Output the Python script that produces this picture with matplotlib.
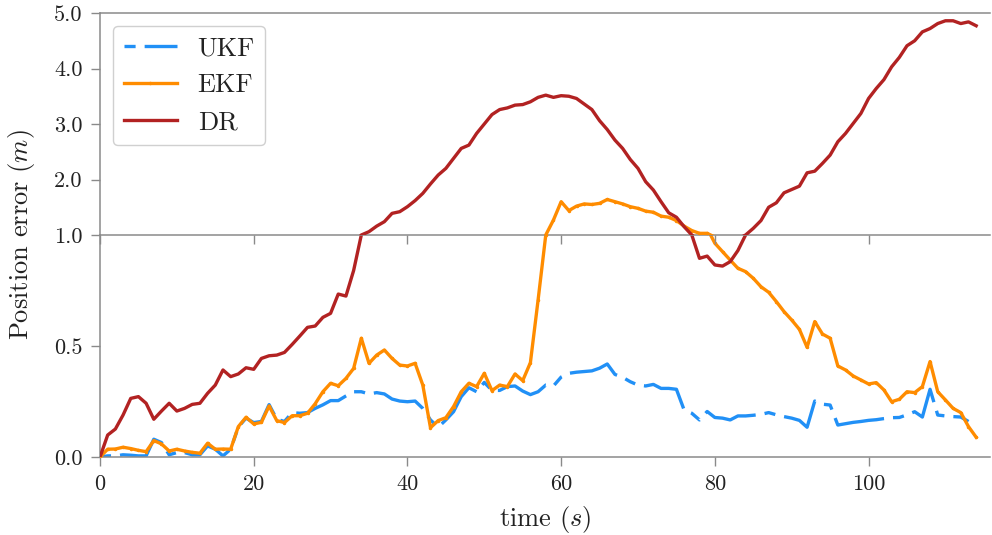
import matplotlib
matplotlib.use("Agg")
import matplotlib.pyplot as plt
import numpy as np

plt.rcParams['font.family'] = 'serif'
plt.rcParams['font.serif'] = ['cmr10', 'DejaVu Serif']
plt.rcParams['mathtext.fontset'] = 'cm'
plt.rcParams['axes.formatter.use_mathtext'] = True
plt.rcParams['axes.unicode_minus'] = False
plt.rcParams['lines.scale_dashes'] = False

time_s = list(range(0, 115))

dr = [0.0, 0.099, 0.126, 0.189, 0.264, 0.272, 0.242, 0.170, 0.207, 0.242,
      0.207, 0.219, 0.237, 0.242, 0.287, 0.324, 0.392, 0.362, 0.374, 0.402,
      0.395, 0.444, 0.456, 0.459, 0.471, 0.507, 0.545, 0.584, 0.590, 0.629,
      0.647, 0.734, 0.725, 0.84, 1.0, 1.06, 1.16, 1.24, 1.39, 1.42,
      1.51, 1.62, 1.75, 1.92, 2.08, 2.2, 2.38, 2.56, 2.62, 2.83,
      3.0, 3.17, 3.26, 3.29, 3.34, 3.35, 3.4, 3.48, 3.52, 3.48,
      3.51, 3.5, 3.46, 3.36, 3.26, 3.06, 2.9, 2.71, 2.56, 2.36,
      2.2, 1.96, 1.81, 1.6, 1.4, 1.32, 1.15, 1.0, 0.895, 0.905,
      0.865, 0.86, 0.88, 0.93, 1.0, 1.12, 1.26, 1.5, 1.58, 1.76,
      1.82, 1.88, 2.12, 2.15, 2.29, 2.44, 2.68, 2.83, 3.01, 3.19,
      3.46, 3.64, 3.8, 4.03, 4.2, 4.41, 4.5, 4.66, 4.72, 4.81,
      4.86, 4.86, 4.81, 4.84, 4.77]

ekf = [0.0, 0.035, 0.036, 0.044, 0.038, 0.030, 0.024, 0.074, 0.059, 0.027,
       0.035, 0.027, 0.021, 0.017, 0.062, 0.035, 0.036, 0.035, 0.137, 0.179,
       0.149, 0.156, 0.230, 0.164, 0.155, 0.186, 0.186, 0.197, 0.24, 0.294,
       0.332, 0.321, 0.354, 0.399, 0.535, 0.422, 0.459, 0.482, 0.444, 0.414,
       0.410, 0.422, 0.324, 0.132, 0.164, 0.177, 0.227, 0.294, 0.332, 0.317,
       0.377, 0.299, 0.324, 0.317, 0.374, 0.344, 0.425, 0.707, 1.0, 1.27,
       1.6, 1.44, 1.52, 1.56, 1.55, 1.57, 1.64, 1.6, 1.56, 1.51,
       1.48, 1.43, 1.41, 1.34, 1.32, 1.26, 1.16, 1.08, 1.03, 1.03,
       0.963, 0.925, 0.887, 0.85, 0.835, 0.805, 0.767, 0.742, 0.70, 0.655,
       0.617, 0.575, 0.494, 0.61, 0.554, 0.535, 0.41, 0.392, 0.365, 0.347,
       0.329, 0.335, 0.302, 0.249, 0.26, 0.294, 0.29, 0.317, 0.43, 0.294,
       0.257, 0.219, 0.2, 0.137, 0.089]

ukf_time = list(range(0, 114))
ukf = [0.0, 0.005, 0.005, 0.01, 0.008, 0.005, 0.005, 0.08, 0.065, 0.01,
       0.02, 0.02, 0.01, 0.01, 0.05, 0.035, 0.005, 0.035, 0.135, 0.175,
       0.155, 0.16, 0.236, 0.17, 0.16, 0.2, 0.197, 0.2, 0.219, 0.235,
       0.254, 0.254, 0.275, 0.294, 0.294, 0.284, 0.29, 0.284, 0.261, 0.252,
       0.249, 0.252, 0.219, 0.167, 0.134, 0.167, 0.204, 0.272, 0.312, 0.294,
       0.336, 0.3, 0.3, 0.317, 0.32, 0.297, 0.281, 0.294, 0.324, 0.32,
       0.36, 0.377, 0.382, 0.385, 0.388, 0.4, 0.419, 0.372, 0.359, 0.339,
       0.324, 0.32, 0.327, 0.309, 0.309, 0.305, 0.212, 0.197, 0.167, 0.205,
       0.178, 0.175, 0.167, 0.185, 0.185, 0.188, 0.192, 0.2, 0.19, 0.182,
       0.175, 0.165, 0.134, 0.252, 0.238, 0.234, 0.144, 0.15, 0.156, 0.16,
       0.165, 0.168, 0.173, 0.177, 0.178, 0.19, 0.204, 0.18, 0.305, 0.189,
       0.185, 0.182, 0.18, 0.16]

top_yticks = [1.0, 2.0, 3.0, 4.0, 5.0]
bottom_yticks = [0.0, 0.5]
xticks = [0, 20, 40, 60, 80, 100]

c_ukf = '#2190f6'
c_ekf = '#ff8c00'
c_dr = '#b22222'
spine_c = '#8a8a8a'
txt_c = '#222222'

W, H = 992, 535
fig = plt.figure(figsize=(W / 100, H / 100), dpi=100)
left = 100 / W
right = 990 / W
ax_bot = fig.add_axes([left, (H - 457) / H, right - left, 222 / H])
ax_top = fig.add_axes([left, (H - 235) / H, right - left, 222 / H])
ax_bot.patch.set_visible(False)
ax_top.patch.set_visible(False)

lw = 2.4
for ax in (ax_top, ax_bot):
    ax.plot(ukf_time, ukf, color=c_ukf, lw=lw, dashes=(8, 6.5, 39, 6.5),
            label='UKF', zorder=2)
    ax.plot(time_s, ekf, color=c_ekf, lw=lw, marker='.', markersize=3,
            label='EKF', zorder=3)
    ax.plot(time_s, dr, color=c_dr, lw=lw, label='DR', zorder=4)
    ax.set_xlim(0, 115.8)
    ax.set_xticks(xticks)
    ax.tick_params(axis='both', colors=spine_c, labelcolor=txt_c,
                   length=6.5, width=1.0, labelsize=16, pad=6)
    ax.spines['right'].set_visible(False)
    for s in ax.spines.values():
        s.set_color(spine_c)
        s.set_linewidth(1.1)

ax_top.set_ylim(1, 5)
ax_top.set_yticks(top_yticks)
ax_top.set_yticklabels([f'{v:.1f}' for v in top_yticks])
ax_top.tick_params(axis='x', labelbottom=False)

ax_bot.set_ylim(0, 1)
ax_bot.set_yticks(bottom_yticks)
ax_bot.set_yticklabels([f'{v:.1f}' for v in bottom_yticks])
ax_bot.spines['top'].set_visible(False)
ax_bot.set_xticklabels([str(v) for v in xticks])

ax_bot.set_xlabel('time ($s$)', fontsize=19, color=txt_c, labelpad=7)
fig.text(22 / W, (H - 235) / H, 'Position error ($m$)', rotation=90,
         ha='center', va='center', fontsize=19, color=txt_c)

leg = ax_top.legend(loc='upper left', fontsize=19, framealpha=1,
                    edgecolor='#d0d0d0', borderaxespad=0.5)
for t in leg.get_texts():
    t.set_color(txt_c)

fig.savefig('out.png', dpi=100)
